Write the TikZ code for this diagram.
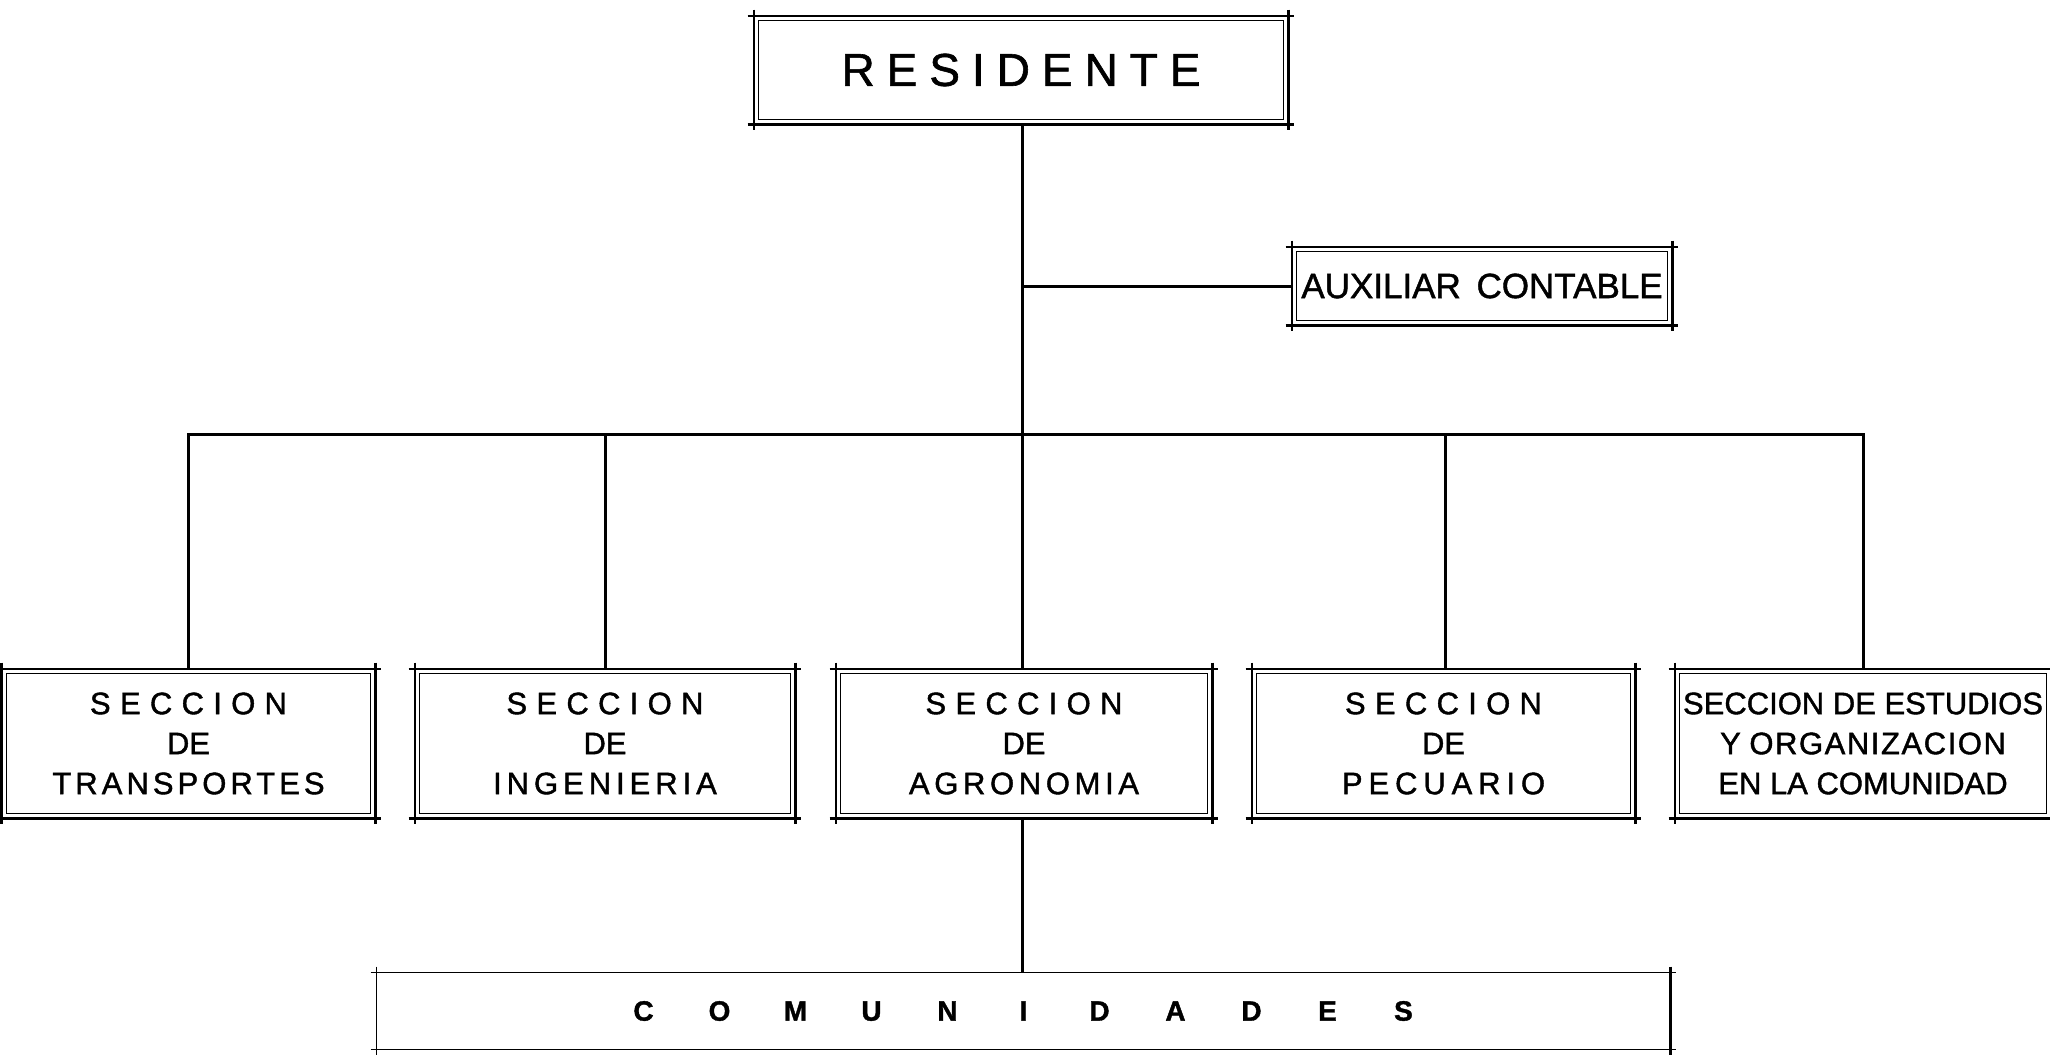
\documentclass[tikz,border=0pt]{standalone}
\usepackage{fontspec}
\setmainfont{Liberation Sans}[FakeBold=1.3]
\newcommand\lsp[2]{{\addfontfeature{LetterSpace=#1}#2}}
\newcommand\cl[1]{\makebox[38pt]{#1}}
\begin{document}
\begin{tikzpicture}[x=0.5pt,y=-0.5pt,
  box/.style={inner sep=0pt, align=center},
  tk/.style={line width=1.1pt},
  inr/.style={line width=0.6pt},
  conn/.style={line width=1.5pt},
  btxt/.style={font=\fontsize{15.5}{20}\selectfont}]
\clip (0,0) rectangle (2050,1055);
\useasboundingbox (0,0) rectangle (2050,1055);
% nodes
\node[box, minimum width=267pt, minimum height=54pt, font=\fontsize{23}{26}\selectfont]
  (res) at (1021,70) {\raisebox{-1.6pt}{\lsp{26}{RESIDENTE}}};
\node[box, minimum width=190pt, minimum height=39pt, font=\fontsize{17.5}{20}\selectfont]
  (aux) at (1482,286) {AUXILIAR\hspace{0.45em}CONTABLE};
\node[box, btxt, minimum width=186.5pt, minimum height=74.5pt] (t1) at (188.5,743.5)
  {\lsp{30}{SECCION}\\DE\\\lsp{13}{TRANSPORTES}};
\node[box, btxt, minimum width=190pt, minimum height=74.5pt] (t2) at (605,743.5)
  {\lsp{30}{SECCION}\\DE\\\lsp{16}{INGENIERIA}};
\node[box, btxt, minimum width=188pt, minimum height=74.5pt] (t3) at (1024,743.5)
  {\lsp{30}{SECCION}\\DE\\\lsp{15}{AGRONOMIA}};
\node[box, btxt, minimum width=191.5pt, minimum height=74.5pt] (t4) at (1443.5,743.5)
  {\lsp{30}{SECCION}\\DE\\\lsp{19}{PECUARIO}};
\node[box, btxt, minimum width=188pt, minimum height=74.5pt] (t5) at (1863,743.5)
  {SECCION DE ESTUDIOS\\Y \lsp{5}{ORGANIZACION}\\EN LA COMUNIDAD};
\node[box, minimum width=646.5pt, minimum height=38pt, font=\fontsize{14}{16}\selectfont\bfseries]
  (com) at (1023.5,1011)
  {\cl{C}\cl{O}\cl{M}\cl{U}\cl{N}\cl{I}\cl{D}\cl{A}\cl{D}\cl{E}\cl{S}};
% drafted box outlines with corner overshoot
\foreach \n in {res,aux,t1,t2,t3,t4,t5}{
  \draw[tk] ([xshift=-3pt]\n.north west) -- ([xshift=3pt]\n.north east);
  \draw[tk] ([xshift=-3pt]\n.south west) -- ([xshift=3pt]\n.south east);
  \draw[tk] ([yshift=3pt]\n.north west) -- ([yshift=-3pt]\n.south west);
  \draw[tk] ([yshift=3pt]\n.north east) -- ([yshift=-3pt]\n.south east);
  \draw[inr] ([shift={(2.5pt,-2.5pt)}]\n.north west) rectangle ([shift={(-2.5pt,2.5pt)}]\n.south east);
}
\draw[line width=0.7pt] ([xshift=-3pt]com.north west) -- ([xshift=3pt]com.north east);
\draw[line width=0.7pt] ([xshift=-3pt]com.south west) -- ([xshift=3pt]com.south east);
\draw[line width=0.7pt] ([yshift=3pt]com.north west) -- ([yshift=-3pt]com.south west);
\draw[line width=1.3pt] ([yshift=3pt]com.north east) -- ([yshift=-3pt]com.south east);
% connectors
\coordinate (bus) at (1022,434);
\draw[conn] (res.south -| bus) -- (bus) -- (bus |- t3.north);
\draw[conn] (aux.west) -- (aux.west -| bus);
\draw[conn] (t1.north) |- (bus);
\draw[conn] (t2.north) -- (t2.north |- bus);
\draw[conn] ([xshift=0.75pt]t4.north) -- ([xshift=0.75pt]t4.north |- bus);
\draw[conn] (t5.north) |- (bus);
\draw[conn] (t3.south -| bus) -- (com.north -| bus);
\end{tikzpicture}
\end{document}
